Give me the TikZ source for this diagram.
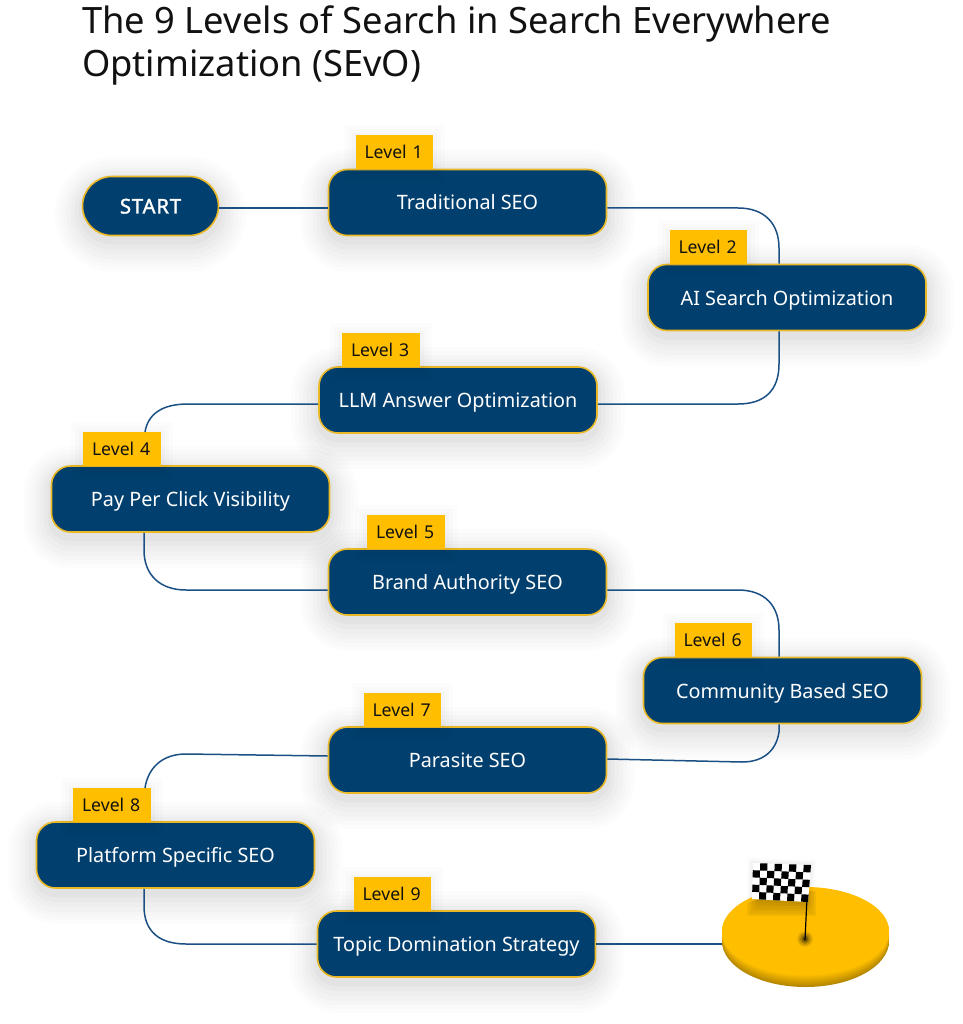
\documentclass[tikz,border=0pt]{standalone}
\usepackage{fontspec}
\setmainfont{Noto Sans}
\newfontfamily\startfont[FakeBold=1.6,LetterSpace=4]{Noto Sans}
\usetikzlibrary{calc,shapes.geometric}
\definecolor{navy}{HTML}{003F6E}
\definecolor{gold}{HTML}{FFBF00}
\definecolor{rimgold}{HTML}{E9B824}
\definecolor{wire}{HTML}{1B5085}
\definecolor{discdark}{HTML}{B58700}
\definecolor{ink}{HTML}{111111}
\tikzset{
  softshadow/.style={
    preaction={draw=black,draw opacity=.010,line width=56pt,transform canvas={yshift=-8pt}},
    preaction={draw=black,draw opacity=.010,line width=48pt,transform canvas={yshift=-8pt}},
    preaction={draw=black,draw opacity=.012,line width=40pt,transform canvas={yshift=-8pt}},
    preaction={draw=black,draw opacity=.014,line width=32pt,transform canvas={yshift=-8pt}},
    preaction={draw=black,draw opacity=.016,line width=24pt,transform canvas={yshift=-7pt}},
    preaction={draw=black,draw opacity=.02,line width=16pt,transform canvas={yshift=-6pt}},
    preaction={draw=black,draw opacity=.025,line width=8pt,transform canvas={yshift=-5pt}}},
  tagshadow/.style={
    preaction={draw=black,draw opacity=.010,line width=24pt,transform canvas={yshift=-2pt}},
    preaction={draw=black,draw opacity=.012,line width=16pt,transform canvas={yshift=-2pt}},
    preaction={draw=black,draw opacity=.015,line width=8pt,transform canvas={yshift=-2pt}}},
  levelbox/.style={rectangle,rounded corners=19pt,draw=rimgold,line width=1.6pt,fill=navy,
    text=white,minimum width=278pt,minimum height=66pt,inner sep=0pt,text height=15pt,text depth=0pt,
    font=\fontsize{19.8}{22}\selectfont,softshadow},
  startbox/.style={levelbox,rounded corners=29.5pt,minimum width=136pt,minimum height=59pt,
    font=\startfont\fontsize{20.3}{22}\selectfont},
  leveltag/.style={rectangle,fill=gold,text=ink,minimum width=77.5pt,minimum height=34pt,inner sep=0pt,
    text height=13pt,text depth=0pt,font=\fontsize{17.6}{18}\selectfont,tagshadow},
  wireline/.style={draw=wire,line width=1.5pt},
}
\begin{document}
\begin{tikzpicture}[x=1pt,y=-1pt]
\useasboundingbox (0,0) rectangle (962,1024);
\fill[white] (0,0) rectangle (962,1024);
\node[anchor=north west,align=left,inner sep=0pt,text=ink,font=\fontsize{36.3}{43}\selectfont] (title) at (82,5.5)
  {The 9 Levels of Search in Search Everywhere\\Optimization (SEvO)};

\node[startbox] (start) at (150.5,206) {START};
\node[levelbox] (b1) at (467.5,202.5) {Traditional SEO};
\node[levelbox] (b2) at (787,297.5) {AI Search Optimization};
\node[levelbox] (b3) at (458,400) {LLM Answer Optimization};
\node[levelbox] (b4) at (190.5,499) {Pay Per Click Visibility};
\node[levelbox] (b5) at (467.5,582) {Brand Authority SEO};
\node[levelbox] (b6) at (782.5,690.5) {Community Based SEO};
\node[levelbox] (b7) at (467.5,760) {Parasite SEO};
\node[levelbox] (b8) at (175.5,855) {Platform Specific SEO};
\node[levelbox] (b9) at (456.5,944) {Topic Domination Strategy};

\node[leveltag,text width=60pt,align=left,text depth=0pt] (t1) at (394.5,152) {Level 1};
\node[leveltag,text width=60pt,align=left] (t2) at (708.5,247) {Level 2};
\node[leveltag,text width=60pt,align=left] (t3) at (381,350) {Level 3};
\node[leveltag,text width=60pt,align=left] (t4) at (122,449) {Level 4};
\node[leveltag,text width=60pt,align=left] (t5) at (406,532) {Level 5};
\node[leveltag,text width=60pt,align=left] (t6) at (713.5,640) {Level 6};
\node[leveltag,text width=60pt,align=left] (t7) at (402.5,710) {Level 7};
\node[leveltag,text width=60pt,align=left] (t8) at (112,805) {Level 8};
\node[leveltag,text width=60pt,align=left] (t9) at (392.5,894) {Level 9};

% finish platform: soft rim fading from dark at the bottom into gold
\fill[discdark] (805.5,941) ellipse [x radius=83.5,y radius=46];
\foreach \k in {1,...,16}{
  \pgfmathsetmacro{\mixv}{\k*6.25}
  \pgfmathsetmacro{\cy}{941-0.62*\k}
  \pgfmathsetmacro{\ry}{46-0.12*\k}
  \fill[gold!\mixv!discdark] (805.5,\cy) ellipse [x radius=83.5,y radius=\ry];
}
\node[ellipse,fill=gold,minimum width=166pt,minimum height=84pt,inner sep=0pt] (disc) at (805.5,933) {};
% flag shadow on the disc
\begin{scope}
\clip (805.5,936) ellipse [x radius=83.5,y radius=45];
\foreach \g in {20,15,10,5,0}{
  \fill[discdark,opacity=.18] (757-\g/2,896-\g/2) rectangle (806+\g/2,906+\g/2);
}
\end{scope}
\foreach \r/\o in {8/.08,6.5/.12,5/.16,3.5/.22,2/.3}{
  \fill[black,opacity=\o] (805,939) ellipse [x radius=\r,y radius=\r];
}
\draw[black,line width=1.2pt] (808.5,866) -- (805,940);
% chequered flag
\foreach \o/\g in {.02/10,.03/5}{
  \fill[black,opacity=\o] (753-\g/2,863-\g/2) -- (811+\g/2,865-\g/2) -- (808+\g/2,902+\g/2) -- (752-\g/2,899+\g/2) -- cycle;
}
\fill[white] (753,863) -- (811,865) -- (808,902) -- (752,899) -- cycle;
\foreach \i in {0,...,7}{\foreach \j in {0,...,4}{
  \pgfmathparse{int(mod(\i+\j,2))}
  \ifnum\pgfmathresult=1
    \pgfmathsetmacro{\ua}{\i/8}\pgfmathsetmacro{\ub}{(\i+1)/8}
    \pgfmathsetmacro{\va}{\j/5}\pgfmathsetmacro{\vb}{(\j+1)/5}
    \fill[black]
      ({753+58*\ua-\va*(1+\ua*2)},{863+2*\ua+\va*(36+\ua*1)}) --
      ({753+58*\ub-\va*(1+\ub*2)},{863+2*\ub+\va*(36+\ub*1)}) --
      ({753+58*\ub-\vb*(1+\ub*2)},{863+2*\ub+\vb*(36+\ub*1)}) --
      ({753+58*\ua-\vb*(1+\ua*2)},{863+2*\ua+\vb*(36+\ua*1)}) -- cycle;
  \fi
}}

% connectors
\draw[wireline] ($(start.east)+(0,2)$) -- ($(b1.west)+(0,5.5)$);
\draw[wireline] ($(b1.east)+(0,5.5)$) -- (738,208) .. controls (765,208) and (779,224) .. (779,248) -- (b2.north -| 779,0);
\draw[wireline] (b2.south -| 779,0) -- (779,364) .. controls (779,390) and (765,404) .. (738,404) -- ($(b3.east)+(0,4)$);
\draw[wireline] ($(b3.west)+(0,4)$) -- (188,404) .. controls (162,404) and (148,414) .. (145,432);
\draw[wireline] (b4.south -| 144,0) -- (144,550) .. controls (144,575) and (160,590) .. (186,590) -- ($(b5.west)+(0,8)$);
\draw[wireline] ($(b5.east)+(0,8)$) -- (738,590) .. controls (765,590) and (779,606) .. (779,630) -- (b6.north -| 779,0);
\draw[wireline] (b6.south -| 779,0) -- (779,732) .. controls (776,752) and (762,762) .. (742,762) -- ($(b7.east)+(0,-1)$);
\draw[wireline] ($(b7.west)+(0,-4)$) -- (186,754) .. controls (162,754) and (148,768) .. (145,788);
\draw[wireline] (b8.south -| 144,0) -- (144,906) .. controls (144,932) and (160,944) .. (186,944) -- (b9.west);
\draw[wireline] (b9.east) -- (722,944);
\end{tikzpicture}
\end{document}
